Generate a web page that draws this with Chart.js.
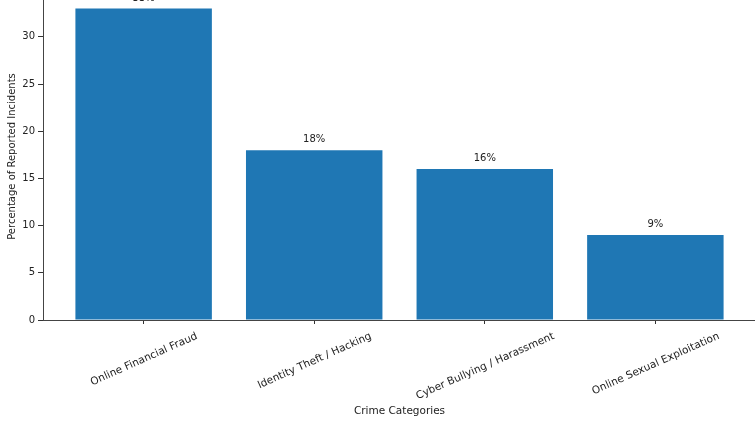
<!DOCTYPE html>
<html>
<head>
<meta charset="utf-8">
<script src="https://cdn.jsdelivr.net/npm/chart.js@4/dist/chart.umd.min.js"></script>
<style>
  html, body { margin: 0; padding: 0; background: #fff; overflow: hidden; }
  body { width: 755px; height: 424px; position: relative; }
  #wrap { position: absolute; left: 0; top: -40px; }
</style>
</head>
<body>
<div id="wrap"><canvas id="crimeChart" width="760" height="464"></canvas></div>
<script>
  // data
  const categories = ["Online Financial Fraud", "Identity Theft / Hacking", "Cyber Bullying / Harassment", "Online Sexual Exploitation"];
  const percentages = [33, 18, 16, 9];
  const yTicks = [0, 5, 10, 15, 20, 25, 30];

  const font = { family: "DejaVu Sans", size: 10 };
  const xFont = { family: "DejaVu Sans", size: 10.5 };
  const xRot = 24;
  const ink = "#222";

  // percentage text above each bar
  const barLabels = {
    id: "barLabels",
    afterDatasetsDraw(chart) {
      const ctx = chart.ctx;
      const meta = chart.getDatasetMeta(0);
      ctx.save();
      ctx.font = "10px 'DejaVu Sans'";
      ctx.fillStyle = ink;
      ctx.textAlign = "center";
      ctx.textBaseline = "alphabetic";
      meta.data.forEach((bar, i) => {
        ctx.fillText(percentages[i] + "%", bar.x, bar.y - 8);
      });
      ctx.restore();
    }
  };

  // rotated x labels centred under their tick (matplotlib style)
  const centreLabels = {
    id: "centreLabels",
    beforeDraw(chart) {
      const sc = chart.scales.x;
      const ctx = chart.ctx;
      const a = xRot * Math.PI / 180;
      ctx.save();
      sc.getLabelItems().forEach((it, i) => {
        ctx.font = it.font.string;
        const w = ctx.measureText(it.label).width;
        it.options.translation[0] = sc.getPixelForTick(i) + (w * Math.cos(a) - it.font.size * Math.sin(a)) / 2;
      });
      ctx.restore();
    }
  };

  var ctx = document.getElementById("crimeChart").getContext("2d");
  var myChart = new Chart(ctx, {
    type: "bar",
    data: {
      datasets: [{
        data: percentages.map((v, i) => ({ x: i, y: v })),
        backgroundColor: "#1f77b4",
        borderWidth: 0,
        barPercentage: 0.8,
        categoryPercentage: 1.0,
      }]
    },
    plugins: [barLabels, centreLabels],
    options: {
      responsive: false,
      animation: false,
      layout: { padding: { top: 33, right: 4, left: 0, bottom: 0 } },
      plugins: { legend: { display: false }, tooltip: { enabled: false } },
      scales: {
        x: {
          type: "linear",
          min: -0.59,
          max: categories.length - 1 + 0.59,
          offset: false,
          grid: { offset: false, drawOnChartArea: false, drawTicks: true, tickLength: 4, tickColor: "#333" },
          border: { display: true, color: "#444", width: 1 },
          ticks: {
            stepSize: 1,
            includeBounds: false,
            autoSkip: false,
            maxRotation: xRot,
            minRotation: xRot,
            padding: 6,
            color: ink,
            font: xFont,
            callback: (v) => categories[v] || ""
          },
          title: { display: true, text: "Crime Categories", color: ink, font: xFont, padding: { top: 0, bottom: 6 } },
          afterFit: (scale) => { scale.height = 104; scale.paddingLeft = 0; scale.paddingRight = 0; }
        },
        y: {
          min: 0,
          max: 34.65,
          grid: { drawOnChartArea: false, drawTicks: true, tickLength: 5, tickColor: "#333" },
          border: { display: true, color: "#444", width: 1 },
          afterBuildTicks: (scale) => { scale.ticks = yTicks.map(v => ({ value: v })); },
          ticks: { padding: 3, color: ink, font: font },
          title: { display: true, text: "Percentage of Reported Incidents", color: ink, font: font, padding: { top: 6, bottom: 0 } },
          afterFit: (scale) => { scale.width = 43; scale.paddingTop = 0; scale.paddingBottom = 0; }
        }
      }
    }
  });
</script>
</body>
</html>
